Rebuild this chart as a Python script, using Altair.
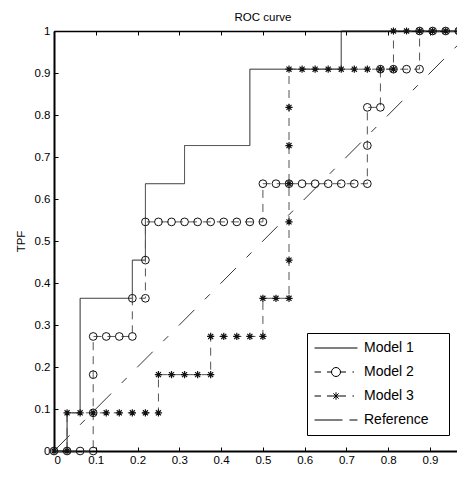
import altair as alt
import pandas as pd

# ---- data ----
series_names = ["Model 1", "Model 2", "Model 3", "Reference"]
series_style = {"Model 1": "solid", "Model 2": "dashed", "Model 3": "dashed", "Reference": "dashdot"}

m1_fpf = [0, 0.0313, 0.0313, 0.0625, 0.0625, 0.1875, 0.1875, 0.2188, 0.2188, 0.3125, 0.3125,
          0.4688, 0.4688, 0.6875, 0.6875, 1.0]
m1_tpf = [0, 0, 0.0909, 0.0909, 0.3636, 0.3636, 0.4545, 0.4545, 0.6364, 0.6364, 0.7273,
          0.7273, 0.9091, 0.9091, 1.0, 1.0]

m2_fpf = [0, 0.0313, 0.0625, 0.0938, 0.0938, 0.0938, 0.0938, 0.125, 0.1563, 0.1875, 0.1875,
          0.2188, 0.2188, 0.2188, 0.25, 0.2813, 0.3125, 0.3438, 0.375, 0.4063, 0.4375, 0.4688,
          0.5, 0.5, 0.5313, 0.5625, 0.5938, 0.625, 0.6563, 0.6875, 0.7188, 0.75, 0.75, 0.75,
          0.7813, 0.7813, 0.8125, 0.8438, 0.875, 0.875, 0.9063, 0.9375, 0.9688, 1.0]
m2_tpf = [0, 0, 0, 0, 0.0909, 0.1818, 0.2727, 0.2727, 0.2727, 0.2727, 0.3636,
          0.3636, 0.4545, 0.5455, 0.5455, 0.5455, 0.5455, 0.5455, 0.5455, 0.5455, 0.5455, 0.5455,
          0.5455, 0.6364, 0.6364, 0.6364, 0.6364, 0.6364, 0.6364, 0.6364, 0.6364, 0.6364, 0.7273, 0.8182,
          0.8182, 0.9091, 0.9091, 0.9091, 0.9091, 1.0, 1.0, 1.0, 1.0, 1.0]

m3_fpf = [0, 0.0313, 0.0313, 0.0625, 0.0938, 0.125, 0.1563, 0.1875, 0.2188, 0.25, 0.25,
          0.2813, 0.3125, 0.3438, 0.375, 0.375, 0.4063, 0.4375, 0.4688, 0.5, 0.5, 0.5313,
          0.5625, 0.5625, 0.5625, 0.5625, 0.5625, 0.5625, 0.5625, 0.5938, 0.625, 0.6563, 0.6875,
          0.7188, 0.75, 0.7813, 0.8125, 0.8125, 0.8438, 0.875, 0.9063, 0.9375, 0.9688, 1.0]
m3_tpf = [0, 0, 0.0909, 0.0909, 0.0909, 0.0909, 0.0909, 0.0909, 0.0909, 0.0909, 0.1818,
          0.1818, 0.1818, 0.1818, 0.1818, 0.2727, 0.2727, 0.2727, 0.2727, 0.2727, 0.3636, 0.3636,
          0.3636, 0.4545, 0.5455, 0.6364, 0.7273, 0.8182, 0.9091, 0.9091, 0.9091, 0.9091, 0.9091,
          0.9091, 0.9091, 0.9091, 0.9091, 1.0, 1.0, 1.0, 1.0, 1.0, 1.0, 1.0]

ref_fpf = [0, 1.0]
ref_tpf = [0, 1.0]

x_ticks = [0, 0.1, 0.2, 0.3, 0.4, 0.5, 0.6, 0.7, 0.8, 0.9]
y_ticks = [0, 0.1, 0.2, 0.3, 0.4, 0.5, 0.6, 0.7, 0.8, 0.9, 1.0]

# ---- tables ----
def long_table(name, xs, ys):
    return pd.DataFrame({"series": name, "style": series_style[name],
                         "fpf": xs, "tpf": ys, "idx": range(len(xs))})

lines_df = pd.concat([
    long_table("Model 1", m1_fpf, m1_tpf),
    long_table("Model 2", m2_fpf, m2_tpf),
    long_table("Model 3", m3_fpf, m3_tpf),
    long_table("Reference", ref_fpf, ref_tpf),
], ignore_index=True)
m2_df = long_table("Model 2", m2_fpf, m2_tpf)
m3_df = long_table("Model 3", m3_fpf, m3_tpf)
legend_df = pd.DataFrame({"series": series_names})

FONT = "Liberation Sans"
W, H = 403, 420          # the reference crops the axes box at FPF ~0.965
X_MAX = 0.9646

xs = alt.Scale(domain=[0, X_MAX], nice=False, zero=False)
ys = alt.Scale(domain=[0, 1], nice=False, zero=False)

asterisk = "M-1,0L1,0M0,-1L0,1M-0.7,-0.7L0.7,0.7M-0.7,0.7L0.7,-0.7"

legend_paths = [
    "M-4.3,0L4.3,0",
    "M-4.3,0L-3,0M-1.8,0L-0.9,0M-0.9,0A0.9,0.9 0 1,1 0.9,0A0.9,0.9 0 1,1 -0.9,0M0.9,0L2,0M3.3,0L3.6,0",
    "M-4.3,0L-3,0M-1.8,0L-0.75,0M-0.75,0L0.75,0M0,-0.75L0,0.75M-0.53,-0.53L0.53,0.53M-0.53,0.53L0.53,-0.53M0.75,0L2,0M3.3,0L3.6,0",
    "M-4.3,0L1.3,0M2.7,0L4.3,0",
]

styles = ["solid", "dashed", "dashdot"]

lines = alt.Chart(lines_df).mark_line(strokeWidth=1, clip=False).encode(
    x=alt.X("fpf:Q", scale=xs, axis=alt.Axis(
        orient="bottom", values=x_ticks, format="~g", ticks=False, tickSize=0,
        labelPadding=3, title="FPF", titlePadding=6, grid=False,
        domainColor="black", domainWidth=2)),
    y=alt.Y("tpf:Q", scale=ys, axis=alt.Axis(
        orient="left", values=y_ticks, format="~g", ticks=False, tickSize=0,
        labelPadding=4, title="TPF", titlePadding=8, grid=False,
        domainColor="black", domainWidth=2)),
    color=alt.Color("style:N", scale=alt.Scale(domain=styles,
                    range=["#222222", "#555555", "#333333"]), legend=None),
    strokeDash=alt.StrokeDash("style:N", scale=alt.Scale(domain=styles,
                    range=[[1, 0], [8, 6], [22, 15, 7, 15]]), legend=None),
    detail="series:N",
    order="idx:Q",
)

circles = alt.Chart(m2_df).mark_point(shape="circle", filled=False, size=60, color="#111111",
                                      strokeWidth=1, opacity=1, clip=False).encode(
    x=alt.X("fpf:Q", scale=xs, axis=alt.Axis(
        orient="top", offset=-H, values=x_ticks, labels=False, ticks=True, tickSize=4,
        tickColor="black", domain=False, grid=False, title=None)),
    y=alt.Y("tpf:Q", scale=ys, axis=alt.Axis(
        orient="right", offset=-W, values=y_ticks, labels=False, ticks=True, tickSize=4,
        tickColor="black", domain=False, grid=False, title=None)),
)

stars = alt.Chart(m3_df).mark_point(shape=asterisk, filled=False, size=52, color="#111111",
                                    strokeWidth=1.2, opacity=1, clip=False).encode(
    x=alt.X("fpf:Q", scale=xs, axis=alt.Axis(
        orient="bottom", offset=-H, values=x_ticks, labels=False, ticks=True, tickSize=4,
        tickColor="black", domain=True, domainColor="black", domainWidth=1.3,
        grid=False, title=None)),
    y=alt.Y("tpf:Q", scale=ys, axis=None),
)

carrier = alt.Chart(legend_df).mark_point(filled=False, size=0, color="black").encode(
    shape=alt.Shape("series:N", scale=alt.Scale(domain=series_names, range=legend_paths),
                    legend=alt.Legend(
                        orient="none", legendX=253, legendY=302, title=None,
                        symbolSize=100, symbolStrokeWidth=1, symbolStrokeColor="black",
                        symbolFillColor="transparent", symbolOpacity=1,
                        symbolOffset=14, labelOffset=21, labelFont=FONT, labelFontSize=14,
                        labelColor="black", labelLimit=300, rowPadding=10, padding=8,
                        strokeColor="black", fillColor="white",
                        labelExpr="datum.label + '\u00a0\u00a0\u00a0\u200b'")),
)

chart = alt.layer(lines, circles, stars, carrier).resolve_axis(
    x="independent", y="independent"
).properties(
    width=W, height=H,
    title=alt.TitleParams("ROC curve", font=FONT, fontSize=11.5, fontWeight="normal",
                          color="black", offset=1, dx=7.5),
    autosize=alt.AutoSizeParams(type="none"),
    padding={"left": 46, "top": 23, "right": 0, "bottom": 19},
).configure_view(stroke=None).configure_axis(
    labelFont=FONT, labelFontSize=11.5, labelColor="black",
    titleFont=FONT, titleFontSize=11.5, titleFontWeight="normal", titleColor="black",
)

chart.save("out.html", embed_options={"renderer": "svg", "actions": False})
